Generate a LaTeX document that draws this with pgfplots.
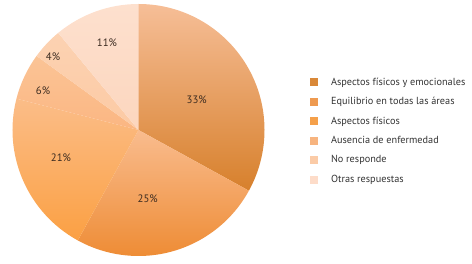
\documentclass[border=0pt]{standalone}
\usepackage{fontspec}
\setmainfont{PT Sans}
\usepackage{pgfplots}
\pgfplotsset{compat=1.18}
\definecolor{s1t}{HTML}{F6BE97}\definecolor{s1b}{HTML}{D7802C}
\definecolor{s2t}{HTML}{F9BC8E}\definecolor{s2b}{HTML}{EE8C35}
\definecolor{s3t}{HTML}{FBBD88}\definecolor{s3b}{HTML}{FBA043}
\definecolor{s4t}{HTML}{FBC496}\definecolor{s4b}{HTML}{FBB682}
\definecolor{s5t}{HTML}{FCD2B2}\definecolor{s5b}{HTML}{FCCAA4}
\definecolor{s6t}{HTML}{FDE0CE}\definecolor{s6b}{HTML}{FCD6BE}
\definecolor{l1}{HTML}{D98838}\definecolor{l2}{HTML}{EE9A50}
\definecolor{l3}{HTML}{F5A04A}\definecolor{l4}{HTML}{F7B47F}
\definecolor{l5}{HTML}{FBCBA7}\definecolor{l6}{HTML}{FDDCC9}
\definecolor{txt}{HTML}{333333}
\definecolor{lab}{HTML}{3B2B20}
\newcommand\pieslice[4]{\shade[top color=#3,bottom color=#4] (axis cs:138.5,134) -- ++(#1:126bp) arc[start angle=#1,end angle=#2,radius=126bp] -- cycle;}
\begin{document}
\begin{tikzpicture}
\begin{axis}[width=472bp,height=264bp,scale only axis,
  xmin=0,xmax=472,ymin=0,ymax=264,hide axis,clip=false,
  legend cell align=left,
  legend style={draw=none,fill=none,font=\fontsize{10.3}{12}\selectfont\color{txt},
    at={(axis cs:307,190.5)},anchor=north west,row sep=6.6bp,
    /tikz/every odd column/.append style={column sep=11.5bp}},
  ]
\path (axis cs:0,0) rectangle (axis cs:472,264);
\gdef\acc{90}
\foreach \v/\ct/\cb/\lx/\ly in {33/s1t/s1b/196.7/99.3, 25/s2t/s2b/147.7/198.3, 21/s3t/s3b/61/158, 6/s4t/s4b/43/91, 4/s5t/s5b/53/57, 11/s6t/s6b/107/43}{
  \pgfmathsetmacro\e{\acc-3.6*\v}
  \pgfmathsetmacro\yy{264-\ly}
  \edef\temp{\noexpand\pieslice{\acc}{\e}{\ct}{\cb}
    \noexpand\node[font=\noexpand\fontsize{10.8}{12}\noexpand\selectfont,text=lab] at (axis cs:\lx,\yy) {\v\noexpand\%};}\temp
  \global\let\acc\e
}
\addlegendimage{legend image code/.code={\fill[l1] (0bp,-3.5bp) rectangle (7bp,3.5bp);}}
\addlegendentry{Aspectos físicos y emocionales}
\addlegendimage{legend image code/.code={\fill[l2] (0bp,-3.5bp) rectangle (7bp,3.5bp);}}
\addlegendentry{Equilibrio en todas las áreas}
\addlegendimage{legend image code/.code={\fill[l3] (0bp,-3.5bp) rectangle (7bp,3.5bp);}}
\addlegendentry{Aspectos físicos}
\addlegendimage{legend image code/.code={\fill[l4] (0bp,-3.5bp) rectangle (7bp,3.5bp);}}
\addlegendentry{Ausencia de enfermedad}
\addlegendimage{legend image code/.code={\fill[l5] (0bp,-3.5bp) rectangle (7bp,3.5bp);}}
\addlegendentry{No responde}
\addlegendimage{legend image code/.code={\fill[l6] (0bp,-3.5bp) rectangle (7bp,3.5bp);}}
\addlegendentry{Otras respuestas}
\end{axis}
\end{tikzpicture}
\end{document}
